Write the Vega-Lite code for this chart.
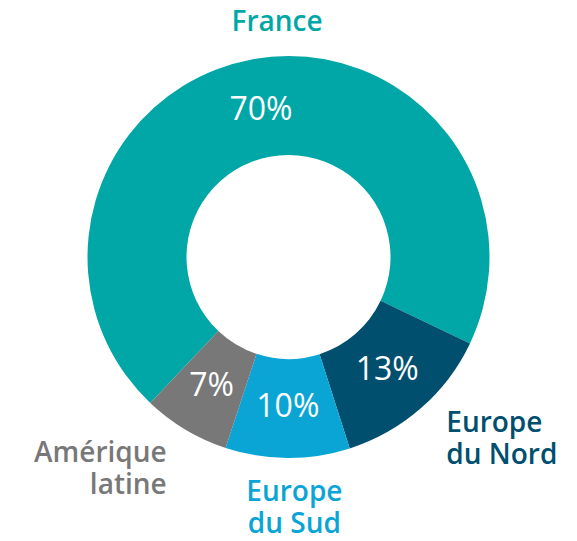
{
  "$schema": "https://vega.github.io/schema/vega-lite/v6.json",
  "width": 577,
  "height": 514,
  "autosize": "none",
  "padding": {"left": 0, "top": 0, "right": 0, "bottom": 27},
  "background": "white",
  "view": {"stroke": null},
  "data": {
    "values": [
      {"region": "France", "label": "France", "value": 70, "pct": "70%"},
      {"region": "Europe du Nord", "label": "Europe\ndu Nord", "value": 13, "pct": "13%"},
      {"region": "Europe du Sud", "label": "Europe\ndu Sud", "value": 10, "pct": "10%"},
      {"region": "Amérique latine", "label": "Amérique\nlatine", "value": 7, "pct": "7%"}
    ]
  },
  "encoding": {
    "theta": {"field": "value", "type": "quantitative", "stack": true, "scale": {"range": [3.90, 10.1832]}},
    "order": {"field": "value", "sort": "descending"},
    "color": {
      "field": "region",
      "type": "nominal",
      "scale": {
        "domain": ["France", "Europe du Nord", "Europe du Sud", "Amérique latine"],
        "range": ["#00A7A6", "#004F6F", "#0AA5D5", "#787878"]
      },
      "legend": null
    }
  },
  "layer": [
    {"mark": {"type": "arc", "outerRadius": 201, "innerRadius": 102}},
    {
      "mark": {"type": "text", "radius": 150, "font": "Open Sans", "fontSize": 32, "fontWeight": 400, "baseline": "middle", "align": "center"},
      "encoding": {"text": {"field": "pct"}, "color": {"value": "white"}, "detail": {"field": "region"}}
    },
    {
      "mark": {"type": "text", "radius": 237, "dx": 32, "dy": -1, "font": "Open Sans", "fontSize": 28, "fontWeight": 600, "baseline": "middle", "align": "center", "lineBreak": "\n", "lineHeight": 32},
      "encoding": {"text": {"condition": {"test": "datum.region === 'France'", "field": "label"}, "value": ""}}
    },
    {
      "mark": {"type": "text", "radius": 255, "dx": -10, "dy": -25, "font": "Open Sans", "fontSize": 28, "fontWeight": 600, "baseline": "middle", "align": "left", "lineBreak": "\n", "lineHeight": 32},
      "encoding": {"text": {"condition": {"test": "datum.region === 'Europe du Nord'", "field": "label"}, "value": ""}}
    },
    {
      "mark": {"type": "text", "radius": 251, "dx": 7, "dy": -15, "font": "Open Sans", "fontSize": 28, "fontWeight": 600, "baseline": "middle", "align": "center", "lineBreak": "\n", "lineHeight": 32},
      "encoding": {"text": {"condition": {"test": "datum.region === 'Europe du Sud'", "field": "label"}, "value": ""}}
    },
    {
      "mark": {"type": "text", "radius": 255, "dx": 9, "dy": -22, "font": "Open Sans", "fontSize": 28, "fontWeight": 600, "baseline": "middle", "align": "right", "lineBreak": "\n", "lineHeight": 32},
      "encoding": {"text": {"condition": {"test": "datum.region === 'Amérique latine'", "field": "label"}, "value": ""}}
    }
  ]
}
